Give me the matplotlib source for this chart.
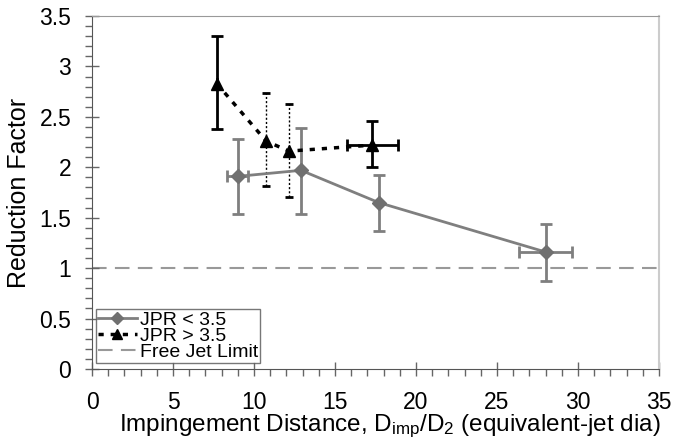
import matplotlib.pyplot as plt
from matplotlib.ticker import MultipleLocator

plt.rcParams['font.family'] = ['Liberation Sans', 'DejaVu Sans']
plt.rcParams['mathtext.fontset'] = 'custom'
plt.rcParams['mathtext.rm'] = 'Liberation Sans'
plt.rcParams['mathtext.it'] = 'Liberation Sans'

# JPR < 3.5 series
low_x = [9.0, 12.9, 17.7, 28.0]
low_y = [1.91, 1.97, 1.65, 1.16]
low_yerr_lo = [0.37, 0.43, 0.28, 0.29]
low_yerr_hi = [0.37, 0.42, 0.27, 0.28]
low_xerr = [0.64, 0.0, 0.0, 1.64]

# JPR > 3.5 series
high_x = [7.7, 10.75, 12.15, 17.3]
high_y = [2.83, 2.26, 2.16, 2.22]
high_yerr_lo = [0.45, 0.45, 0.45, 0.22]
high_yerr_hi = [0.47, 0.48, 0.47, 0.24]
high_xerr = [0.0, 0.0, 0.0, 1.57]
# first and last points use solid bars, middle ones dotted
solid_idx = [0, 3]
dotted_idx = [1, 2]

free_jet = 1.0

fig = plt.figure(figsize=(6.77, 4.41), dpi=100)
ax = fig.add_axes([0.1359, 0.1633, 0.8375, 0.8004])

gray = '#7f7f7f'
ax.axhline(free_jet, color='#999999', lw=1.5, ls=(0, (7, 4)), label='Free Jet Limit', zorder=1)

ax.errorbar(low_x, low_y, yerr=[low_yerr_lo, low_yerr_hi], xerr=low_xerr,
            fmt='none', ecolor=gray, elinewidth=2, capsize=4, capthick=2, zorder=2)
ax.plot(low_x, low_y, color=gray, lw=2, marker='D', ms=7, mfc='#707070', mec='#707070',
        label='JPR < 3.5', zorder=3)

sx = [high_x[i] for i in solid_idx]
sy = [high_y[i] for i in solid_idx]
ax.errorbar(sx, sy,
            yerr=[[high_yerr_lo[i] for i in solid_idx], [high_yerr_hi[i] for i in solid_idx]],
            xerr=[high_xerr[i] for i in solid_idx],
            fmt='none', ecolor='black', elinewidth=2, capsize=4, capthick=2, zorder=2)
dx = [high_x[i] for i in dotted_idx]
dy = [high_y[i] for i in dotted_idx]
eb = ax.errorbar(dx, dy,
                 yerr=[[high_yerr_lo[i] for i in dotted_idx], [high_yerr_hi[i] for i in dotted_idx]],
                 fmt='none', ecolor='black', elinewidth=1, capsize=3, capthick=2, zorder=2)
eb[2][0].set_linestyle((0, (1.5, 1.5)))
ax.plot(high_x, high_y, color='black', lw=2.5, ls=(0, (1.5, 2.0)), marker='^', ms=8,
        mfc='black', mec='black', label='JPR > 3.5', zorder=4)

ax.set_xlim(0, 35)
ax.set_ylim(0, 3.5)
ax.xaxis.set_minor_locator(MultipleLocator(1))
ax.yaxis.set_minor_locator(MultipleLocator(0.1))
ax.set_xticks(range(0, 36, 5))
ax.set_xticklabels([str(v) for v in range(0, 36, 5)])
ax.set_yticks([0, 0.5, 1, 1.5, 2, 2.5, 3, 3.5])
ax.set_yticklabels(['0', '0.5', '1', '1.5', '2', '2.5', '3', '3.5'])

ax.tick_params(which='major', direction='inout', length=10, width=1, color='#666666',
               labelsize=16.5, labelcolor='black')
ax.tick_params(axis='y', which='major', pad=10)
ax.tick_params(axis='x', which='major', pad=11)
ax.tick_params(which='minor', direction='out', length=5, width=1, color='#666666')

ax.spines['left'].set_color('#555555')
ax.spines['bottom'].set_color('#555555')
ax.spines['top'].set_color('#999999')
ax.spines['right'].set_color('#cccccc')
ax.spines['right'].set_linewidth(1.5)

ax.set_xlabel(r'Impingement Distance, D$_{\mathrm{imp}}$/D$_{\mathrm{2}}$ (equivalent-jet dia)',
              fontsize=17.5)
ax.xaxis.set_label_coords(0.525, -0.123, transform=ax.transAxes)
ax.xaxis.label.set_va('top')
ax.set_ylabel('Reduction Factor', fontsize=18, labelpad=6)

handles, labels = ax.get_legend_handles_labels()
order = [1, 2, 0]
leg = ax.legend([handles[i] for i in order], [labels[i] for i in order],
                loc='lower left', bbox_to_anchor=(0.007, 0.018), fontsize=14,
                frameon=True, fancybox=False, handlelength=2.0, handletextpad=0.15,
                labelspacing=-0.08, borderpad=0.1, borderaxespad=0, markerscale=0.9)
leg.get_frame().set_edgecolor('#555555')
leg.get_frame().set_linewidth(1)

fig.savefig('out.png', dpi=100)
